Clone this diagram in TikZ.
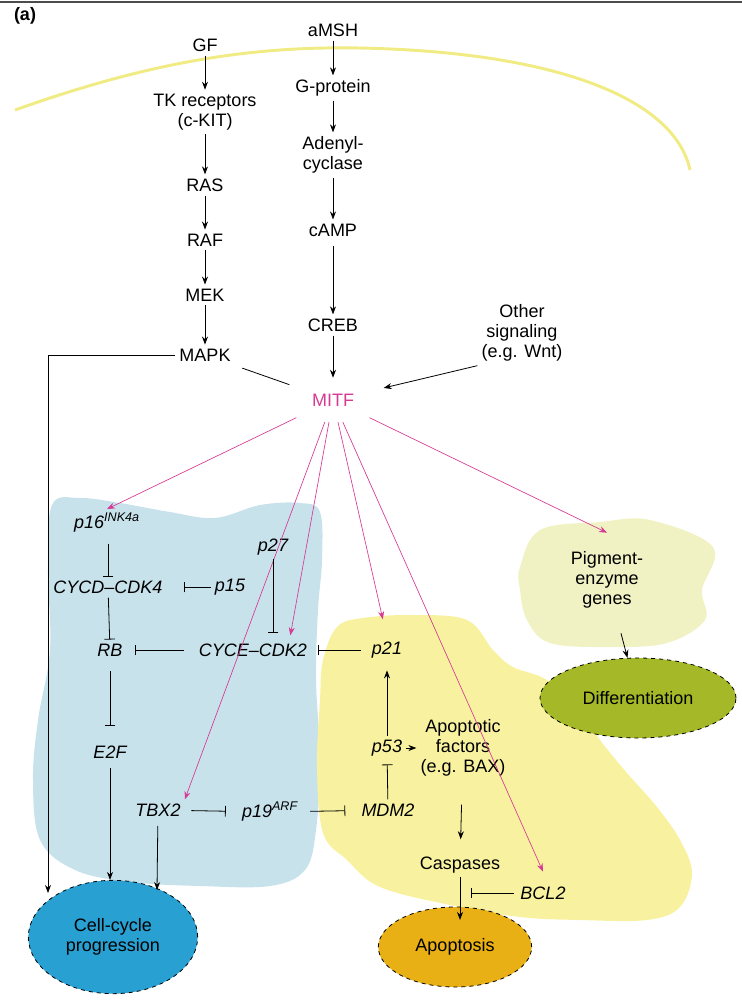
\documentclass[tikz,border=0pt]{standalone}
\usepackage{fontspec}
\setmainfont{Liberation Sans}
\usetikzlibrary{arrows.meta,shapes.geometric}

\definecolor{mitfpink}{RGB}{214,58,148}
\definecolor{blueblob}{RGB}{200,226,236}
\definecolor{yellowblob}{RGB}{248,242,160}
\definecolor{pigblob}{RGB}{241,242,196}
\definecolor{membrane}{RGB}{240,235,130}
\definecolor{cyclefill}{RGB}{40,160,210}
\definecolor{apopfill}{RGB}{232,176,20}
\definecolor{difffill}{RGB}{165,185,40}

\begin{document}
\begin{tikzpicture}[x=0.75pt,y=-0.75pt,
    lbl/.style={font=\fontsize{13.5}{15}\selectfont, align=center, inner sep=3pt},
    gene/.style={lbl, font=\fontsize{13.5}{15}\selectfont\itshape},
    arr/.style={-{Stealth[length=6pt,width=4.5pt]}, line width=0.6pt},
    inh/.style={-{Bar[width=8pt]}, line width=0.6pt},
    marr/.style={arr, draw=mitfpink, line width=0.5pt},
    outcome/.style={ellipse, draw, dashed, line width=0.6pt, lbl}]

    \useasboundingbox (0,0) rectangle (742,1001);

    % frame line and panel label
    \draw[gray!60!black, line width=1pt] (0,2) -- (742,2);
    \node[lbl, font=\fontsize{13.5}{15}\selectfont\bfseries] (panel) at (25,16) {(a)};

    % cell membrane
    \draw[membrane, line width=2.2pt] (15,110) .. controls (150,62) and (250,46) .. (360,48)
        .. controls (560,52) and (675,100) .. (690,170);

    % coloured regions
    \fill[blueblob] plot[smooth cycle, tension=0.6] coordinates {(52,505) (80,498) (120,503)
        (170,512) (215,518) (260,505) (300,503) (320,512) (322,560) (318,610) (316,680)
        (320,760) (316,830) (305,870) (270,886) (200,886) (130,882) (75,870) (40,840)
        (33,780) (38,720) (50,650) (48,570)};
    \fill[yellowblob] plot[smooth cycle, tension=0.6] coordinates {(337,627) (363,618)
        (413,615) (467,620) (493,650) (513,667) (547,680) (580,710) (600,740) (627,773)
        (657,807) (680,840) (692,873) (680,907) (647,920) (580,920) (520,917) (450,905)
        (380,887) (347,860) (323,833) (317,767) (320,700) (323,660)};
    \fill[pigblob] plot[smooth cycle, tension=0.6] coordinates {(520,567) (540,530)
        (600,522) (650,520) (713,547) (702,590) (705,620) (667,643) (610,647) (550,643)
        (527,620) (520,590)};

    % receptor pathways
    \node[lbl] (gf) at (205,45) {GF};
    \node[lbl] (tk) at (205,112) {TK receptors\\(c-KIT)};
    \node[lbl] (ras) at (205,185) {RAS};
    \node[lbl] (raf) at (205,240) {RAF};
    \node[lbl] (mek) at (205,295) {MEK};
    \node[lbl] (mapk) at (205,355) {MAPK};

    \node[lbl] (amsh) at (333,30) {aMSH};
    \node[lbl] (gprot) at (333,88) {G-protein};
    \node[lbl] (adenyl) at (333,155) {Adenyl-\\cyclase};
    \node[lbl] (camp) at (333,230) {cAMP};
    \node[lbl] (creb) at (333,325) {CREB};
    \node[lbl] (other) at (522,333) {Other\\signaling\\(e.g. Wnt)};

    \node[lbl, text=mitfpink, ellipse, minimum width=90pt, minimum height=33pt] (mitf) at (333,400) {MITF};

    \draw[arr] (gf) -- (tk);
    \draw[arr] (tk) -- (ras);
    \draw[arr] (ras) -- (raf);
    \draw[arr] (raf) -- (mek);
    \draw[arr] (mek) -- (mapk);
    \draw[arr] (amsh) -- (gprot);
    \draw[arr] (gprot) -- (adenyl);
    \draw[arr] (adenyl) -- (camp);
    \draw[arr, shorten <=4pt] (camp) -- (creb);
    \draw[arr] (creb) -- (mitf);
    \draw[arr] (other.south west) -- (mitf);
    \draw[line width=0.6pt, shorten <=6pt] (mapk) -- (mitf);

    % cell-cycle genes
    \node[gene] (p16) at (107,523) {p16\textsuperscript{INK4a}};
    \node[gene] (p27) at (273,547) {p27};
    \node[gene] (cycd) at (108,587) {CYCD--CDK4};
    \node[gene] (p15) at (230,587) {p15};
    \node[gene] (rb) at (110,650) {RB};
    \node[gene] (cyce) at (253,650) {CYCE--CDK2};
    \node[gene] (e2f) at (110,752) {E2F};
    \node[gene] (tbx2) at (158,810) {TBX2};
    \node[gene] (p19) at (270,812) {p19\textsuperscript{ARF}};

    % apoptosis genes
    \node[gene] (p21) at (387,650) {p21};
    \node[gene] (p53) at (387,748) {p53};
    \node[gene] (mdm2) at (388,810) {MDM2};
    \node[lbl] (factors) at (463,748) {Apoptotic\\factors\\(e.g. BAX)};
    \node[lbl] (casp) at (460,865) {Caspases};
    \node[gene] (bcl2) at (543,893) {BCL2};
    \node[lbl] (pig) at (607,580) {Pigment-\\enzyme\\genes};

    % outcomes
    \node[outcome, fill=cyclefill, minimum width=127pt, minimum height=85pt] (cellcycle) at (113,937) {Cell-cycle\\progression};
    \node[outcome, fill=apopfill, minimum width=115pt, minimum height=60pt] (apoptosis) at (455,947) {Apoptosis};
    \node[outcome, fill=difffill, minimum width=147pt, minimum height=60pt] (diff) at (638,698) {Differentiation};

    \coordinate (ccleft) at (48,893);
    \coordinate (cctbx) at (157,890);
    \coordinate (casptee) at (471,893);

    % MITF targets
    \draw[marr] (mitf) -- (p16.north);
    \draw[marr] (mitf) -- (tbx2.north east);
    \draw[marr] (mitf) -- ([xshift=28pt,yshift=3pt]cyce.north);
    \draw[marr, shorten >=14pt] (mitf) -- (p21.north);
    \draw[marr] (mitf) -- ([yshift=8pt]bcl2.north);
    \draw[marr] (mitf) -- ([yshift=11pt]pig.north);

    % interactions
    \draw[inh, shorten <=5pt] (cycd |- p16.south) -- (cycd.north);
    \draw[inh, shorten >=13pt] (p15) -- (cycd);
    \draw[inh] (cycd) -- (rb);
    \draw[inh, shorten <=8pt, shorten >=6pt] (cyce) -- (rb);
    \draw[inh, shorten <=5pt, shorten >=5pt] (p21) -- (cyce);
    \draw[inh, shorten >=5pt] (p27) -- (p27 |- cyce.north);
    \draw[inh, shorten <=8pt, shorten >=12pt] (rb) -- (e2f);
    \draw[inh, shorten <=5pt, shorten >=9pt] (tbx2) -- (p19);
    \draw[inh, shorten <=6pt, shorten >=9pt] (p19) -- (mdm2);
    \draw[inh, shorten >=3pt] (mdm2) -- (p53);
    \draw[arr, shorten >=6pt] (p53) -- (p21);
    \draw[arr] (p53) -- (factors);
    \draw[arr, shorten <=18pt, shorten >=10pt] (factors) -- (casp);
    \draw[arr, shorten >=-10pt] (casp) -- (casp |- apoptosis.north);
    \draw[inh, shorten <=2pt] (bcl2) -- (casptee);
    \draw[arr, shorten <=16pt] (pig) -- (diff);

    % to cell-cycle progression
    \draw[arr] (mapk.west) -- (mapk.west -| ccleft) -- (ccleft);
    \draw[arr, shorten <=4pt] (e2f) -- (e2f |- cellcycle.north);
    \draw[arr, shorten <=4pt] (tbx2) -- (cctbx);

\end{tikzpicture}
\end{document}
